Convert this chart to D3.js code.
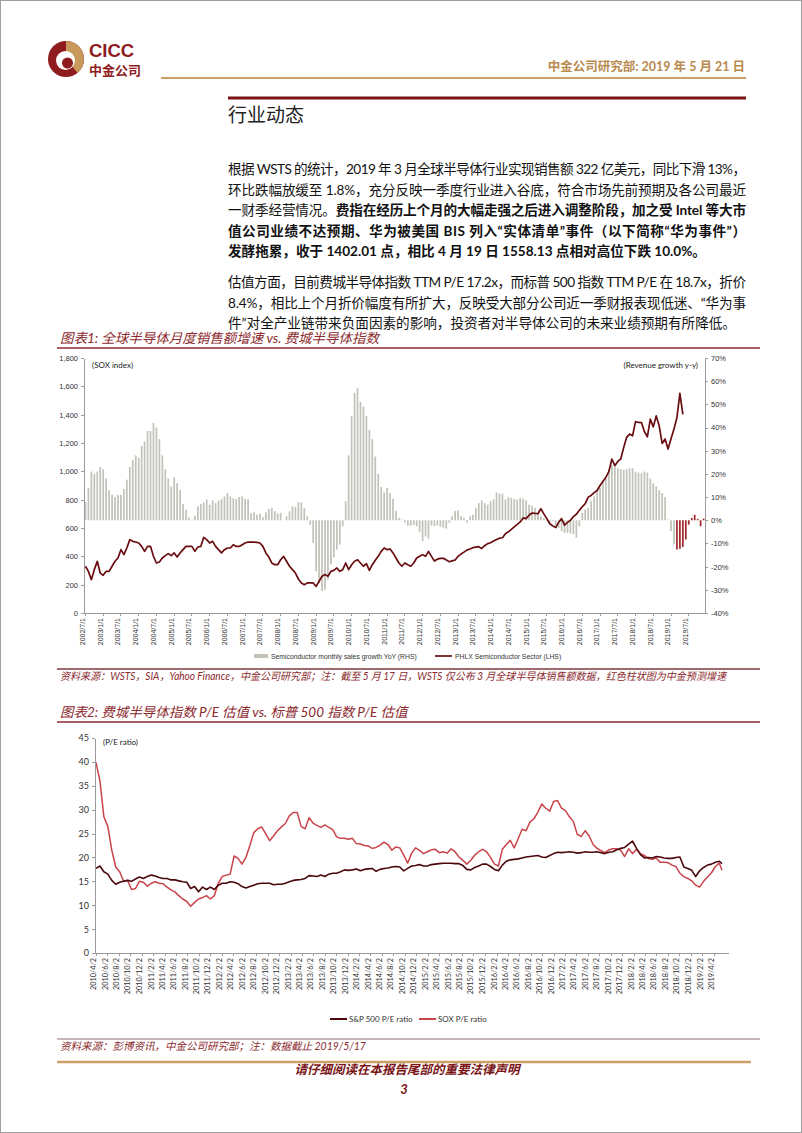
<!DOCTYPE html>
<html>
<head>
<meta charset="utf-8">
<script src="https://cdn.jsdelivr.net/npm/d3@7"></script>
<style>
  body { margin: 0; background: #fff; }
  svg { display: block; }
  .axis text { font-family: "Liberation Sans", Arial, sans-serif; fill: #333; }
  .axis path, .axis line { stroke: #9a9a9a; shape-rendering: crispEdges; }
</style>
</head>
<body>
<script>
//Chart 1: SOX index (monthly, 2002/7 - 2019/5)
var soxIndex = [
  330,294,235,306,365,282,266,294,294,330,
  365,388,447,412,459,518,506,501,494,470,
  435,470,470,400,353,360,388,405,419,405,
  424,395,424,447,470,470,470,435,466,470,
  534,518,494,506,470,447,424,447,459,459,
  482,470,470,482,494,501,501,501,498,494,
  470,424,395,353,341,341,376,400,365,330,
  306,282,240,212,200,212,212,212,188,224,
  259,271,259,294,301,318,294,306,353,306,
  341,365,376,353,330,348,301,341,372,400,
  435,459,447,452,424,388,353,330,353,341,
  330,353,388,400,412,400,435,
  400,367,380,386,386,375,362,368,374,
  400,416,430,444,452,461,465,468,456,475,
  490,496,508,519,528,531,560,573,590,608,
  625,643,671,666,690,706,703,701,736,700,
  666,630,615,603,640,666,620,640,655,680,
  697,725,750,772,818,830,850,865,900,930,
  959,1000,1087,1040,1070,1087,1169,1240,1263,1251,
  1351,1345,1344,1280,1244,1368,1314,1391,1321,1197,
  1228,1157,1230,1298,1380,1550,1402
];

//Chart 1: semiconductor sales growth YoY, % (2002/7 - 2019/2 actual)
var salesYoY = [
  8,14,21,20,21,23,22,18,13,11,
  10,11,11,13.5,17.5,23,26,28,27,32,
  34,38.5,38.5,42,40,35,28,22,18,14.6,
  18.5,16,13,7,4.6,1.3,0.3,2,6,7,
  7.7,9,6.7,8.6,7.4,8.5,9.2,10.3,11.7,10.3,
  9.5,9.2,10,10.3,9.2,9,3,3.4,2.4,2.9,
  1.3,3.4,4.9,5.3,3.9,2.9,3.2,0,1.7,3.9,
  6,5.7,7.9,7.7,5.3,1.7,-1.9,-9.7,-22,-27,
  -30.5,-30,-25.5,-19,-16,-12.6,-10.5,-2.6,8.2,28,
  45,55,57,51,49,45,39,35,27.5,20,
  14.3,12,14,11.7,9.3,4,1,0.3,-1,-2.3,
  -2.3,-2,-2.6,-5,-9,-7,-8,-2.3,-2.5,-2.2,
  -2.8,-3.2,-3.6,-1,1.7,4,4.3,1.7,1,-1,
  1.7,2.4,5.3,7.4,8.6,7.4,6.7,8.2,9,12,
  11.5,11.5,9,10,9.7,9.2,9,9.6,9.3,8.6,
  6.7,6.3,5.3,3.2,1.7,1,0.3,-1,-0.4,-2.3,
  -3.3,-4.7,-5.4,-5.4,-5.7,-6,-7.5,-2.6,3.2,4.6,
  5.3,8.2,10.3,12.5,14,17,18,22,24,23,
  22.5,22,21.8,22,22.5,22.5,21,20.6,20.3,21,
  20.6,18,16,14.6,13,11.7,10,0.3,-4.7,-10.4
];

//Chart 1: CICC forecast growth, % (2019/3 - 2019/12)
var salesYoYForecast = [-12.6,-12.3,-11.5,-8.3,-1.9,1,2.4,0.6,-2.6,0.7];

var leftTicks = [0,200,400,600,800,1000,1200,1400,1600,1800];
var rightTicks = [-40,-30,-20,-10,0,10,20,30,40,50,60,70];

//Chart 2: P/E ratios, sampled every 3 weeks from 2010/4/2, last point 2019/5/17
var spxPE = [
  17.7,18.2,17,16.5,15.2,14.4,14.8,15,15.2,15,
  15.5,15.9,15.6,16,16.3,16.1,15.8,15.6,15.6,15.3,
  15.3,15.1,14.9,14.8,13.5,13.9,12.8,13.8,13.3,13.8,
  13.3,14.2,14.6,14.6,14.9,14.8,14.5,13.9,13.6,13.9,
  14.2,14.5,14.6,14.6,14.6,14.3,14.4,14.4,14.6,14.9,
  15.2,15.3,15.4,15.6,16.2,16.1,16,16.3,16,16.5,
  16.7,16.7,17,17.4,17.3,17.4,17.6,17.2,17.5,17.6,
  17.7,17.1,17.5,17.7,17.8,18,18.1,18,17.2,17.7,
  18.2,18.3,18.5,18.2,18.2,18.5,18.6,18.7,18.8,18.8,
  18.8,18.7,18.7,18.3,17.5,17.4,17.9,18.2,18.6,18.6,
  18.1,17.5,17.2,18.4,19.2,19.5,19.6,19.7,19.9,20.1,
  20.2,20.3,20.4,20.1,20,20.4,20.8,21.1,21,21.1,
  21.2,21.1,20.9,21,21.2,21.1,21.1,21.2,21,20.8,
  21.1,21.2,21.6,21.9,22.1,22.8,23.4,21.9,20.6,19.9,
  20,19.9,20.2,20.1,19.9,19.8,19.8,20,20.1,18,
  17.7,17.3,16,17.2,17.9,18.4,18.6,19,19.2,
  18.7
];
var soxPE = [
  39.9,36,28.5,26.5,21.5,18,17,15,15.2,13.3,
  13.5,15,14.8,14,14.6,14.9,14.6,14.5,13.8,13.2,
  12.8,12,11.3,10.8,9.8,10.6,11.3,11.6,12,11.3,
  12,14.6,16,16.3,16.5,20.3,19.8,18.6,20,22.5,
  25.2,26,26.4,25,23.5,24.5,25.6,26.4,27.1,28.7,
  29.4,29.4,26.5,26,28.3,27.2,26.7,26.3,26.8,26.3,
  25.8,24.3,24,24,23.8,24,22.9,22.8,22.5,22.4,
  21.9,22.1,22.6,23.2,22.7,21.5,22.2,22,20.5,18.8,
  20.9,22,21.5,20.8,21.2,21.6,21.7,21,21.2,20.9,
  21.8,21.2,20.1,19.4,18.6,19.4,20.5,21.2,21.7,21.2,
  20,18.6,18.2,21.7,22.7,23.6,22,23.9,25.9,25.6,
  27.4,28.1,29.5,31.2,30.3,29.7,31.7,31.9,30.3,29.8,
  28.5,27.5,24.8,24.4,25.6,24.5,22.7,21.9,21.4,21,
  21.6,21.8,21.8,21.5,20.2,21.8,20.8,21.7,20.8,20.4,
  19.8,19.6,19.9,19,19,18.9,18.4,18.1,16.7,16,
  15.6,15.1,14.2,13.8,15,15.9,16.8,18.1,18.8,
  17.3
];
var peTicks = [0,5,10,15,20,25,30,35,40,45];

//Text content
var para1 = [
  [["根据 WSTS 的统计，2019 年 3 月全球半导体行业实现销售额 322 亿美元，同比下滑 13%，", 0]],
  [["环比跌幅放缓至 1.8%，充分反映一季度行业进入谷底，符合市场先前预期及各公司最近", 0]],
  [["一财季经营情况。", 0], ["费指在经历上个月的大幅走强之后进入调整阶段，加之受 Intel 等大市", 1]],
  [["值公司业绩不达预期、华为被美国 BIS 列入“实体清单”事件（以下简称“华为事件”）", 1]],
  [["发酵拖累，收于 1402.01 点，相比 4 月 19 日 1558.13 点相对高位下跌 10.0%。", 1]]
];
var para2 = [
  [["估值方面，目前费城半导体指数 TTM P/E 17.2x，而标普 500 指数 TTM P/E 在 18.7x，折价", 0]],
  [["8.4%，相比上个月折价幅度有所扩大，反映受大部分公司近一季财报表现低迷、“华为事", 0]],
  [["件”对全产业链带来负面因素的影响，投资者对半导体公司的未来业绩预期有所降低。", 0]]
];

var red = "#8c2a2e", gold = "#c9a065", cjk = "'Noto Sans CJK SC', sans-serif";

//Create page
var svg = d3.select("body").append("svg")
    .attr("width", 802)
    .attr("height", 1133);

svg.append("rect")
    .attr("x", 0.5).attr("y", 0.5)
    .attr("width", 801).attr("height", 1132)
    .attr("fill", "#fff")
    .attr("stroke", "#a0a0a0");

//Logo
var logo = svg.append("g").attr("transform", "translate(66,59)");
logo.append("circle").attr("r", 18).attr("fill", "#8e1b1e");
logo.append("path")
    .attr("d", d3.arc()({innerRadius: 0, outerRadius: 18, startAngle: 0, endAngle: Math.PI * 0.78}))
    .attr("fill", "#c8995a");
logo.append("circle").attr("cx", -0.5).attr("cy", 1.5).attr("r", 9.5).attr("fill", "#fff");
logo.append("circle").attr("cx", 1.5).attr("cy", 4).attr("r", 5.5).attr("fill", "#8e1b1e");

svg.append("text")
    .attr("x", 89).attr("y", 57)
    .style("font-family", "'Liberation Sans', Arial, sans-serif")
    .style("font-weight", "bold")
    .style("font-size", "18.5px")
    .attr("fill", "#8e1b1e")
    .text("CICC");
svg.append("text")
    .attr("x", 89).attr("y", 75)
    .style("font-family", cjk)
    .style("font-weight", "bold")
    .style("font-size", "13px")
    .attr("fill", "#8e1b1e")
    .text("中金公司");

svg.append("text")
    .attr("x", 745).attr("y", 71)
    .attr("text-anchor", "end")
    .style("font-family", "Lato, " + cjk)
    .style("font-weight", "bold")
    .style("font-size", "12.5px")
    .attr("fill", "#b98a4e")
    .text("中金公司研究部: 2019 年 5 月 21 日");

svg.append("line").attr("x1", 161).attr("x2", 746).attr("y1", 78).attr("y2", 78)
    .attr("stroke", gold).attr("stroke-width", 2.2);
svg.append("line").attr("x1", 228).attr("x2", 746).attr("y1", 98).attr("y2", 98)
    .attr("stroke", "#7a1416").attr("stroke-width", 3);

svg.append("text")
    .attr("x", 228).attr("y", 122)
    .style("font-family", cjk)
    .style("font-size", "19px")
    .attr("fill", "#222")
    .text("行业动态");

//Body paragraphs (justified lines except the last of each paragraph)
function addParagraph(lines, top) {
  lines.forEach(function(parts, i) {
    var t = svg.append("text")
        .attr("x", 228)
        .attr("y", top + i * 20.5)
        .style("font-family", "Lato, " + cjk)
        .style("font-size", "13.6px")
        .attr("fill", "#111");
    if (i < lines.length - 1) {
      t.attr("textLength", 518).attr("lengthAdjust", "spacing");
    }
    parts.forEach(function(p) {
      t.append("tspan").style("font-weight", p[1] ? "bold" : "normal").text(p[0]);
    });
  });
}
addParagraph(para1, 174);
addParagraph(para2, 287);

//Chart titles, separators and sources
function addTitle(txt, y) {
  svg.append("text")
      .attr("x", 60).attr("y", y)
      .style("font-family", "Lato, " + cjk)
      .style("font-style", "italic")
      .style("font-size", "13.5px")
      .attr("fill", red)
      .text(txt);
  svg.append("line").attr("x1", 57).attr("x2", 760).attr("y1", y + 5).attr("y2", y + 5)
      .attr("stroke", red).attr("stroke-width", 1.5);
}
function addSource(txt, y, color, len) {
  svg.append("line").attr("x1", 57).attr("x2", 760).attr("y1", y - 11).attr("y2", y - 11)
      .attr("stroke", color).attr("stroke-width", 1.3);
  var t = svg.append("text")
      .attr("x", 60).attr("y", y)
      .style("font-family", "Lato, " + cjk)
      .style("font-style", "italic")
      .style("font-size", "10.5px")
      .attr("fill", red)
      .text(txt);
  if (len) t.attr("textLength", len).attr("lengthAdjust", "spacingAndGlyphs");
}
addTitle("图表1: 全球半导体月度销售额增速 vs. 费城半导体指数", 343);
addTitle("图表2: 费城半导体指数 P/E 估值 vs. 标普 500 指数 P/E 估值", 717);
addSource("资料来源：WSTS，SIA，Yahoo Finance，中金公司研究部；注：截至 5 月 17 日，WSTS 仅公布 3 月全球半导体销售额数据，红色柱状图为中金预测增速", 680, "#7d3a3e", 666);
addSource("资料来源：彭博资讯，中金公司研究部；注：数据截止 2019/5/17", 1050, "#b49ca2", null);

//----- Chart 1 -----
var months = d3.timeMonth.range(new Date(2002, 6, 1), new Date(2020, 0, 1));
var monthIdx = d3.range(months.length);

var x1 = d3.scaleBand().domain(monthIdx).range([84, 705]).paddingInner(0.42).paddingOuter(0.2);
var yL = d3.scaleLinear().domain([0, 1800]).range([613, 358]);
var yR = d3.scaleLinear().domain([-40, 70]).range([613, 358]);
var cx = function(i) { return x1(i) + x1.bandwidth() / 2; };

var g1 = svg.append("g");

//Bars: actual then forecast
var bars = salesYoY.map(function(v, i) { return {i: i, v: v, f: false}; })
    .concat(salesYoYForecast.map(function(v, j) { return {i: salesYoY.length + j, v: v, f: true}; }));

g1.selectAll("rect.bar")
    .data(bars).enter()
    .append("rect")
    .attr("class", "bar")
    .attr("x", function(d) { return x1(d.i); })
    .attr("width", x1.bandwidth())
    .attr("y", function(d) { return Math.min(yR(d.v), yR(0)); })
    .attr("height", function(d) { return Math.abs(yR(d.v) - yR(0)); })
    .attr("fill", function(d) { return d.f ? "#a3272c" : "#c2c2ba"; });

//SOX line
var soxLine = d3.line()
    .x(function(d, i) { return cx(i); })
    .y(function(d) { return yL(d); });

g1.append("path")
    .datum(soxIndex)
    .attr("fill", "none")
    .attr("stroke", "#6a0d11")
    .attr("stroke-width", 1.7)
    .attr("stroke-linejoin", "round")
    .attr("d", soxLine);

//Axes
var fmtMonth = d3.timeFormat("%Y/%-m/%-d");
g1.append("g")
    .attr("class", "axis")
    .attr("transform", "translate(0,613)")
    .call(d3.axisBottom(x1)
      .tickValues(monthIdx.filter(function(i) { return i % 6 === 0; }))
      .tickFormat(function(i) { return fmtMonth(months[i]); })
      .tickSize(3).tickSizeOuter(0))
  .selectAll("text")
    .style("font-size", "7px")
    .attr("text-anchor", "end")
    .attr("transform", "rotate(-90)")
    .attr("x", -5).attr("y", -3)
    .attr("dy", "0.35em");

g1.append("g")
    .attr("class", "axis")
    .attr("transform", "translate(84,0)")
    .call(d3.axisLeft(yL).tickValues(leftTicks).tickFormat(d3.format(",")).tickSize(3).tickSizeOuter(0))
  .selectAll("text").style("font-size", "7.5px");

g1.append("g")
    .attr("class", "axis")
    .attr("transform", "translate(705,0)")
    .call(d3.axisRight(yR).tickValues(rightTicks).tickFormat(function(d) { return d + "%"; }).tickSize(3).tickSizeOuter(0))
  .selectAll("text").style("font-size", "7.5px");

g1.append("text").attr("x", 92).attr("y", 368)
    .style("font-family", "Lato, sans-serif").style("font-size", "8px").attr("fill", "#222")
    .text("(SOX index)");
g1.append("text").attr("x", 698).attr("y", 368).attr("text-anchor", "end")
    .style("font-family", "Lato, sans-serif").style("font-size", "8px").attr("fill", "#222")
    .text("(Revenue growth y-y)");

//Legend chart 1
var leg1 = g1.append("g").style("font-family", "'Liberation Sans', Arial, sans-serif").style("font-size", "6.8px");
leg1.append("rect").attr("x", 254).attr("y", 654).attr("width", 14).attr("height", 4).attr("fill", "#c2c2ba");
leg1.append("text").attr("x", 271).attr("y", 658.5).attr("fill", "#333").text("Semiconductor monthly sales growth YoY (RHS)");
leg1.append("line").attr("x1", 435).attr("x2", 452).attr("y1", 656).attr("y2", 656).attr("stroke", "#6a0d11").attr("stroke-width", 1.7);
leg1.append("text").attr("x", 455).attr("y", 658.5).attr("fill", "#333").text("PHLX Semiconductor Sector (LHS)");

//----- Chart 2 -----
var peStart = new Date(2010, 3, 2);
var peDates = d3.range(spxPE.length - 1).map(function(k) { return d3.timeDay.offset(peStart, 21 * k); });
peDates.push(new Date(2019, 4, 17));

var x2 = d3.scaleTime().domain([peStart, new Date(2019, 5, 18)]).range([96, 728]);
var y2 = d3.scaleLinear().domain([0, 45]).range([953, 738]);

var g2 = svg.append("g");

var peLine = d3.line()
    .x(function(d, i) { return x2(peDates[i]); })
    .y(function(d) { return y2(d); });

g2.append("path").datum(soxPE)
    .attr("fill", "none").attr("stroke", "#c9444a").attr("stroke-width", 1.5)
    .attr("stroke-linejoin", "round").attr("d", peLine);
g2.append("path").datum(spxPE)
    .attr("fill", "none").attr("stroke", "#4b080c").attr("stroke-width", 1.6)
    .attr("stroke-linejoin", "round").attr("d", peLine);

var peTickDates = d3.range(55).map(function(m) { return new Date(2010, 3 + 2 * m, 2); });

g2.append("g")
    .attr("class", "axis")
    .attr("transform", "translate(0,953)")
    .call(d3.axisBottom(x2).tickValues(peTickDates).tickFormat(fmtMonth).tickSize(3).tickSizeOuter(0))
  .selectAll("text")
    .style("font-family", "Lato, sans-serif")
    .style("font-size", "7.3px")
    .attr("text-anchor", "end")
    .attr("transform", "rotate(-90)")
    .attr("x", -5).attr("y", -3)
    .attr("dy", "0.35em");

g2.append("g")
    .attr("class", "axis")
    .attr("transform", "translate(95,0)")
    .call(d3.axisLeft(y2).tickValues(peTicks).tickSize(3).tickSizeOuter(0))
  .selectAll("text")
    .style("font-family", "Lato, sans-serif")
    .style("font-size", "9px");

g2.append("text").attr("x", 103).attr("y", 745)
    .style("font-family", "Lato, sans-serif").style("font-size", "8px").attr("fill", "#222")
    .text("(P/E ratio)");

//Legend chart 2
var leg2 = g2.append("g").style("font-family", "Lato, sans-serif").style("font-size", "8px").attr("fill", "#333");
leg2.append("line").attr("x1", 330).attr("x2", 347).attr("y1", 1019).attr("y2", 1019).attr("stroke", "#4b080c").attr("stroke-width", 2);
leg2.append("text").attr("x", 349).attr("y", 1022).text("S&P 500 P/E ratio");
leg2.append("line").attr("x1", 419).attr("x2", 436).attr("y1", 1019).attr("y2", 1019).attr("stroke", "#c9444a").attr("stroke-width", 2);
leg2.append("text").attr("x", 438).attr("y", 1022).text("SOX P/E ratio");

//Footer
svg.append("line").attr("x1", 57).attr("x2", 751).attr("y1", 1062).attr("y2", 1062)
    .attr("stroke", gold).attr("stroke-width", 2.5);
svg.append("text")
    .attr("x", 407).attr("y", 1074)
    .attr("text-anchor", "middle")
    .style("font-family", cjk)
    .style("font-weight", "bold").style("font-style", "italic")
    .style("font-size", "12.5px")
    .attr("fill", "#7a1416")
    .text("请仔细阅读在本报告尾部的重要法律声明");
svg.append("text")
    .attr("x", 404).attr("y", 1094)
    .attr("text-anchor", "middle")
    .style("font-family", "Lato, sans-serif")
    .style("font-weight", "bold").style("font-style", "italic")
    .style("font-size", "13px")
    .attr("fill", "#7a1416")
    .text("3");
</script>
</body>
</html>
